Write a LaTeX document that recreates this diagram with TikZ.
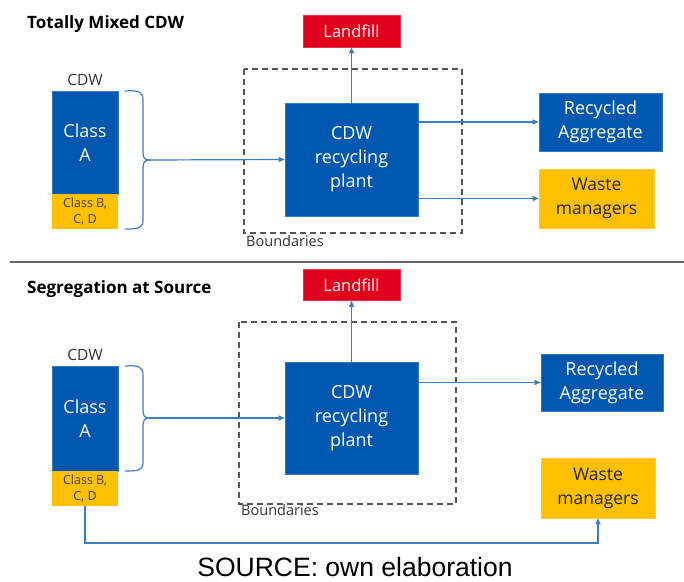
\documentclass[tikz,border=0pt]{standalone}
\usepackage{fontspec}
\setmainfont{Open Sans}
\newfontfamily\arialfont{Liberation Sans}
\usetikzlibrary{arrows.meta,calc}
\definecolor{boxblue}{HTML}{0057B0}
\definecolor{boxyellow}{HTML}{FFC000}
\definecolor{boxred}{HTML}{E0001B}
\definecolor{linkblue}{HTML}{3B7DC6}
\definecolor{framegray}{HTML}{555555}
\definecolor{smalltext}{HTML}{4A3F10}
\tikzset{
  x=1pt, y=-1pt,
  bluebox/.style={draw=boxblue!80!white, line width=0.6pt, fill=boxblue, text=white, inner sep=0pt, align=center, font=\fontsize{18}{24}\selectfont},
  yellowbox/.style={draw=boxyellow!80!white, line width=0.6pt, fill=boxyellow, text=black!85, inner sep=0pt, align=center, font=\fontsize{17.5}{24}\selectfont},
  redbox/.style={draw=boxred!80!white, line width=0.6pt, fill=boxred, text=white, inner sep=0pt, align=center, font=\fontsize{16.5}{20}\selectfont},
  smallbox/.style={fill=boxyellow, text=smalltext, inner sep=0pt, align=center, font=\fontsize{12.5}{16}\selectfont},
  conn/.style={draw=linkblue, line width=1.2pt},
  arr/.style={conn, -{Triangle[length=6pt,width=5pt]}},
  bound/.style={draw=framegray, line width=1.1pt, dash pattern=on 6pt off 4pt},
  caption/.style={inner sep=0pt, text=black!80, font=\fontsize{15.5}{18}\selectfont},
  boundtext/.style={inner sep=0pt, text=black!80, font=\fontsize{14.5}{17}\selectfont},
  title/.style={inner sep=0pt, anchor=west, font=\fontsize{17}{19}\bfseries\selectfont}
}
\begin{document}
\begin{tikzpicture}
\useasboundingbox[fill=white] (0,0) rectangle (684,581);

% ---------- Totally mixed CDW ----------
\node[title] (t1) at (27,24) {Totally Mixed CDW};
\node[caption] (cdw1) at (85,80) {CDW};
\node[bluebox, minimum width=66pt, minimum height=103pt] (ca1) at (85,142.5) {Class\\A};
\node[smallbox, minimum width=66pt, minimum height=35pt] (cb1) at (85,211.5) {Class B,\\C, D};
\draw[bound] (244,69) rectangle (462,233);
\node[boundtext, anchor=north west] (bd1) at (246,235) {Boundaries};
\node[bluebox, minimum width=133pt, minimum height=113pt] (pl1) at (351.5,159.5) {CDW\\recycling\\plant};
\node[redbox, minimum width=97pt, minimum height=32pt] (lf1) at (351.5,31) {Landfill};
\node[bluebox, minimum width=123pt, minimum height=58pt] (ra1) at (600.5,122) {Recycled\\Aggregate};
\node[yellowbox, minimum width=115pt, minimum height=59pt] (wm1) at (596.5,198.5) {Waste\\managers};
\coordinate (tip1) at (149,160);
\draw[conn] (125,91) .. controls (139,90) and (143,92) .. (143,100) -- (143,152)
  .. controls (143,158) and (145,160) .. (tip1)
  .. controls (145,160) and (143,162) .. (143,168) -- (143,220)
  .. controls (143,228) and (139,229) .. (125,229);
\draw[arr] (tip1) -- (pl1.west);
\draw[arr] (pl1.north) -- (lf1.south);
\draw[arr] (pl1.east |- ra1.west) -- (ra1.west);
\draw[arr] (pl1.east |- wm1.west) -- (wm1.west);

% separator
\draw[draw=black!60, line width=1.6pt] (10,262) -- (684,262);

% ---------- Segregation at source ----------
\node[title] (t2) at (27,289) {Segregation at Source};
\node[caption] (cdw2) at (85,355) {CDW};
\node[bluebox, minimum width=66pt, minimum height=105pt] (ca2) at (85,418.5) {Class\\A};
\node[smallbox, minimum width=66pt, minimum height=35pt] (cb2) at (85,488.5) {Class B,\\C, D};
\draw[bound] (239,322) rectangle (456,504);
\node[boundtext, anchor=north west] (bd2) at (241,504) {Boundaries};
\node[bluebox, minimum width=133pt, minimum height=112pt] (pl2) at (351.5,418) {CDW\\recycling\\plant};
\node[redbox, minimum width=97pt, minimum height=31pt] (lf2) at (351.5,285) {Landfill};
\node[bluebox, minimum width=122pt, minimum height=57pt] (ra2) at (602,382.5) {Recycled\\Aggregate};
\node[yellowbox, minimum width=114pt, minimum height=60pt] (wm2) at (598,488) {Waste\\managers};
\coordinate (tip2) at (149,418);
\draw[conn] (125,366) .. controls (139,365) and (143,367) .. (143,375) -- (143,410)
  .. controls (143,416) and (145,418) .. (tip2)
  .. controls (145,418) and (143,420) .. (143,426) -- (143,462)
  .. controls (143,470) and (139,471) .. (125,471);
\draw[arr] (tip2) -- (pl2.west);
\draw[arr] (pl2.north) -- (lf2.south);
\draw[arr] (pl2.east |- ra2.west) -- (ra2.west);
\coordinate (low) at (85,543);
\draw[arr] (cb2.south) -- (low) -| (wm2.south);

% source line
\node[inner sep=0pt, font=\arialfont\fontsize{26.5}{30}\selectfont] (src) at (355,567) {SOURCE: own elaboration};
\end{tikzpicture}
\end{document}
